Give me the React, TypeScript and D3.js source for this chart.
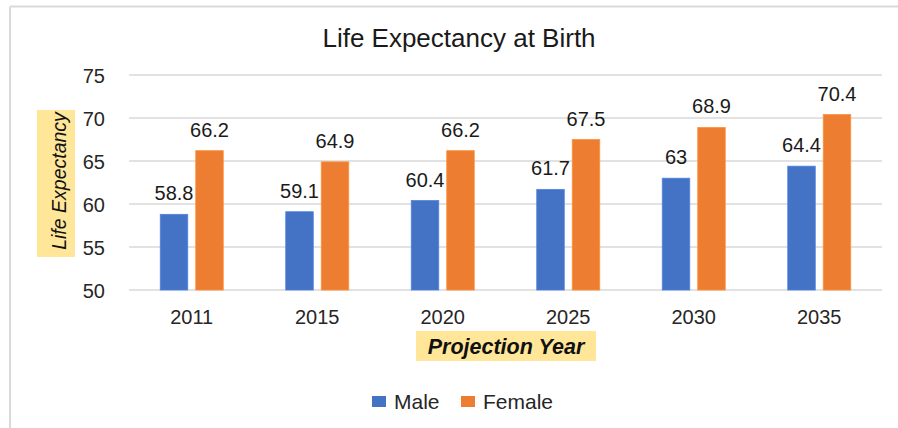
import React from "react";
import * as d3 from "d3";

const years = ["2011", "2015", "2020", "2025", "2030", "2035"];
const maleValues = [58.8, 59.1, 60.4, 61.7, 63, 64.4];
const femaleValues = [66.2, 64.9, 66.2, 67.5, 68.9, 70.4];
const maleLabels = ["58.8", "59.1", "60.4", "61.7", "63", "64.4"];
const femaleLabels = ["66.2", "64.9", "66.2", "67.5", "68.9", "70.4"];
const yTicks = [50, 55, 60, 65, 70, 75];
const seriesNames = ["Male", "Female"];
const seriesColors = ["#4472C4", "#ED7D31"];

const W = 898;
const H = 428;
const FONT = "'Liberation Sans', Arial, sans-serif";

export default function App() {
  const x = d3.scaleBand<string>().domain(years).range([129, 882]).paddingInner(0.498).paddingOuter(0.249);
  const xs = d3.scaleBand<string>().domain(seriesNames).range([0, x.bandwidth()]).paddingInner(0.225).paddingOuter(0);
  const y = d3.scaleLinear().domain([50, 75]).range([290, 75]);

  const series = [
    { name: "Male", values: maleValues, labels: maleLabels, color: seriesColors[0] },
    { name: "Female", values: femaleValues, labels: femaleLabels, color: seriesColors[1] },
  ];

  return (
    <svg
      width={W}
      height={H}
      style={{ position: "absolute", left: 0, top: 0, background: "#fff" }}
      fontFamily={FONT}
    >
      <rect x={0} y={0} width={W} height={H} fill="#fff" />
      {/* outer border */}
      <line x1={10} x2={W} y1={6.5} y2={6.5} stroke="#d9d9d9" strokeWidth={2} />
      <line x1={10} x2={10} y1={6.5} y2={H} stroke="#d9d9d9" strokeWidth={2} />

      {/* title */}
      <text x={459} y={47} textAnchor="middle" fontSize={26} fill="#1a1a1a">
        Life Expectancy at Birth
      </text>

      {/* gridlines */}
      {yTicks.map((t) => (
        <line key={t} x1={129} x2={882} y1={y(t)} y2={y(t)} stroke="#d9d9d9" strokeWidth={1.5} />
      ))}
      {/* y tick labels */}
      {yTicks.map((t) => (
        <text key={"l" + t} x={105} y={y(t) + 7.5} textAnchor="end" fontSize={20} fill="#262626">
          {t}
        </text>
      ))}

      {/* bars */}
      {series.map((s) =>
        years.map((yr, i) => {
          const bx = (x(yr) as number) + (xs(s.name) as number);
          const by = y(s.values[i]);
          return (
            <g key={s.name + yr}>
              <rect
                x={bx}
                y={by}
                width={xs.bandwidth()}
                height={y(50) - by}
                fill={s.color}
                stroke={d3.color(s.color)!.brighter(0.4).formatHex()}
                strokeWidth={0.8}
              />
              <text
                x={bx + xs.bandwidth() / 2}
                y={by - 14}
                textAnchor="middle"
                fontSize={20}
                fill="#1a1a1a"
              >
                {s.labels[i]}
              </text>
            </g>
          );
        })
      )}

      {/* x tick labels */}
      {years.map((yr) => (
        <text
          key={"x" + yr}
          x={(x(yr) as number) + x.bandwidth() / 2}
          y={324}
          textAnchor="middle"
          fontSize={20}
          fill="#262626"
        >
          {yr}
        </text>
      ))}

      {/* x axis title */}
      <rect x={416} y={331} width={180} height={30} fill="#FFE699" />
      <text
        x={506}
        y={354}
        textAnchor="middle"
        fontSize={21.5}
        fontWeight="bold"
        fontStyle="italic"
        fill="#111"
      >
        Projection Year
      </text>

      {/* y axis title */}
      <rect x={37} y={110} width={38} height={147} fill="#FFE699" />
      <text
        transform="translate(66,181) rotate(-90)"
        textAnchor="middle"
        fontSize={19.5}
        fontStyle="italic"
        fill="#111"
      >
        Life Expectancy
      </text>

      {/* legend */}
      <rect x={372} y={396} width={14} height={11} fill={seriesColors[0]} />
      <text x={394} y={409} fontSize={21} fill="#262626">
        Male
      </text>
      <rect x={461} y={396} width={14} height={11} fill={seriesColors[1]} />
      <text x={483} y={409} fontSize={21} fill="#262626">
        Female
      </text>
    </svg>
  );
}
